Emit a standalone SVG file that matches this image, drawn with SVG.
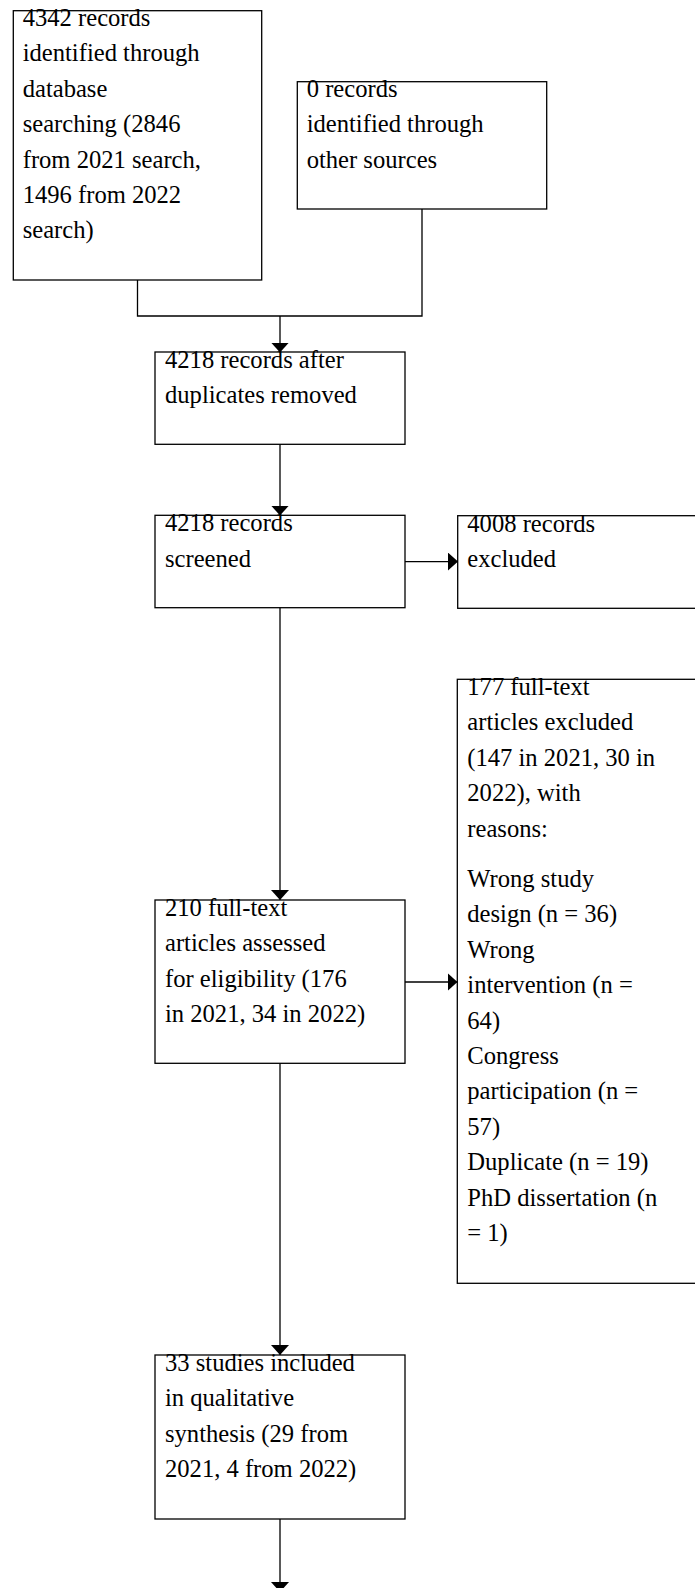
<svg xmlns="http://www.w3.org/2000/svg" width="695" height="1588" viewBox="0 0 695 1588">
<style>
  .box { fill: none; stroke: #000; stroke-width: 1.3; }
  .t { font-family: "Liberation Serif", "Times New Roman", serif; font-size: 24.6px; fill: #000; }
  .c { fill: none; stroke: #000; stroke-width: 1.3; }
</style>
<defs>
  <marker id="arr" markerUnits="userSpaceOnUse" markerWidth="12" markerHeight="20" refX="10" refY="9" orient="auto">
    <path d="M0,0 L10,9 L0,18 z" fill="#000"/>
  </marker>
</defs>
<rect width="695" height="1588" fill="#fff"/>

<g id="connectors">
  <path class="c" d="M137.5,280 V316 H422 V209"/>
  <path class="c" d="M280,316 V352.5" marker-end="url(#arr)"/>
  <path class="c" d="M280,444.3 V515.5" marker-end="url(#arr)"/>
  <path class="c" d="M405,561.6 H458" marker-end="url(#arr)"/>
  <path class="c" d="M280,607.7 V900" marker-end="url(#arr)"/>
  <path class="c" d="M405,982 H457.5" marker-end="url(#arr)"/>
  <path class="c" d="M280,1063.3 V1355" marker-end="url(#arr)"/>
  <path class="c" d="M280,1519 V1592" marker-end="url(#arr)"/>
</g>

<g id="n1">
  <text class="t"><tspan x="22.7" y="26">4342 records</tspan><tspan x="22.7" y="61.4">identified through</tspan><tspan x="22.7" y="96.8">database</tspan><tspan x="22.7" y="132.2">searching (2846</tspan><tspan x="22.7" y="167.6">from 2021 search,</tspan><tspan x="22.7" y="203">1496 from 2022</tspan><tspan x="22.7" y="238.4">search)</tspan></text>
  <rect class="box" x="13.3" y="10.7" width="248.4" height="269.3"/>
</g>

<g id="n2">
  <text class="t"><tspan x="306.7" y="96.7">0 records</tspan><tspan x="306.7" y="132.3">identified through</tspan><tspan x="306.7" y="168">other sources</tspan></text>
  <rect class="box" x="297.3" y="81.7" width="249.4" height="127.3"/>
</g>

<g id="n3">
  <text class="t"><tspan x="165" y="367.7">4218 records after</tspan><tspan x="165" y="403.1">duplicates removed</tspan></text>
  <rect class="box" x="155" y="352" width="250" height="92.3"/>
</g>

<g id="n4">
  <text class="t"><tspan x="165" y="531.3">4218 records</tspan><tspan x="165" y="566.7">screened</tspan></text>
  <rect class="box" x="155" y="515.3" width="250" height="92.4"/>
</g>

<g id="n5">
  <text class="t"><tspan x="467.3" y="531.6">4008 records</tspan><tspan x="467.3" y="567">excluded</tspan></text>
  <rect class="box" x="457.7" y="515.7" width="250" height="92.6"/>
</g>

<g id="n6">
  <text class="t"><tspan x="165" y="915.7">210 full-text</tspan><tspan x="165" y="951.1">articles assessed</tspan><tspan x="165" y="986.5">for eligibility (176</tspan><tspan x="165" y="1021.9">in 2021, 34 in 2022)</tspan></text>
  <rect class="box" x="155" y="900" width="250" height="163.3"/>
</g>

<g id="n7">
  <text class="t"><tspan x="467.3" y="695">177 full-text</tspan><tspan x="467.3" y="730.4">articles excluded</tspan><tspan x="467.3" y="765.8">(147 in 2021, 30 in</tspan><tspan x="467.3" y="801.2">2022), with</tspan><tspan x="467.3" y="836.6">reasons:</tspan><tspan x="467.3" y="887">Wrong study</tspan><tspan x="467.3" y="922.4">design (n = 36)</tspan><tspan x="467.3" y="957.8">Wrong</tspan><tspan x="467.3" y="993.2">intervention (n =</tspan><tspan x="467.3" y="1028.6">64)</tspan><tspan x="467.3" y="1064">Congress</tspan><tspan x="467.3" y="1099.4">participation (n =</tspan><tspan x="467.3" y="1134.8">57)</tspan><tspan x="467.3" y="1170.2">Duplicate (n = 19)</tspan><tspan x="467.3" y="1205.6">PhD dissertation (n</tspan><tspan x="467.3" y="1241">= 1)</tspan></text>
  <rect class="box" x="457.3" y="679.3" width="250" height="604"/>
</g>

<g id="n8">
  <text class="t"><tspan x="165" y="1370.7">33 studies included</tspan><tspan x="165" y="1406.1">in qualitative</tspan><tspan x="165" y="1441.5">synthesis (29 from</tspan><tspan x="165" y="1476.9">2021, 4 from 2022)</tspan></text>
  <rect class="box" x="155" y="1355" width="250" height="164"/>
</g>
</svg>
